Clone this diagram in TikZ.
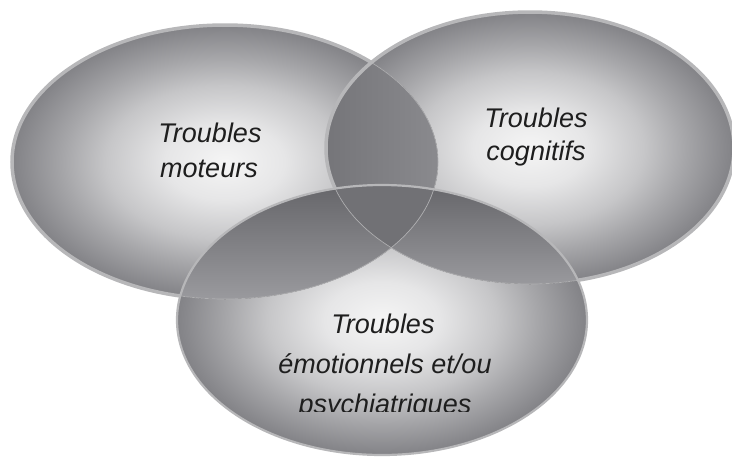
\documentclass[tikz,border=0pt]{standalone}
\usepackage{fontspec}
\setmainfont{Liberation Sans}
\definecolor{shA}{HTML}{F5F5F5}
\definecolor{shB}{HTML}{E6E6E7}
\definecolor{shC}{HTML}{C6C6C8}
\definecolor{shD}{HTML}{A6A6A9}
\definecolor{shE}{HTML}{88888C}
\definecolor{shF}{HTML}{727276}
\definecolor{shG}{HTML}{68686C}
\definecolor{rimc}{HTML}{B7B7B9}
\definecolor{thinc}{HTML}{B0B0B2}
\definecolor{lensa}{HTML}{747478}
\definecolor{lensb}{HTML}{8A8A8E}
\definecolor{lowa}{HTML}{66666A}
\definecolor{lowb}{HTML}{9A9A9E}
\definecolor{triple}{HTML}{717175}
\definecolor{txt}{HTML}{1E1E1E}
\pgfdeclareradialshading{blob}{\pgfpointorigin}{color(0bp)=(shA); color(7bp)=(shB); color(14bp)=(shC); color(19bp)=(shD); color(24bp)=(shE); color(28bp)=(shF); color(35bp)=(shG); color(50bp)=(shG)}
\tikzset{
  ballfill/.style={shading=blob},
  rimthick/.style={draw=rimc, line width=3.5pt},
  rimbottom/.style={draw=rimc, line width=2.2pt},
  rimthin/.style={draw=thinc, line width=0.7pt},
  pL/.style={insert path={(cL) ellipse [x radius=213pt, y radius=137pt]}},
  pR/.style={insert path={(cR) ellipse [x radius=204pt, y radius=136pt]}},
  pB/.style={insert path={(cB) ellipse [x radius=205pt, y radius=135pt]}},
  lbl/.style={font=\fontsize{27}{30}\selectfont\itshape, text=txt, inner sep=0pt, anchor=base}
}
\begin{document}
\begin{tikzpicture}[x=1pt,y=-1pt]
\useasboundingbox (0,0) rectangle (732,459);
\coordinate (cL) at (225,162);
\coordinate (cR) at (530,148);
\coordinate (cB) at (382,320);
% left ellipse
\path[ballfill, pL];
\path[rimthick, pL];
% right ellipse
\path[ballfill, pR];
\begin{scope}
  \clip[pL];
  \clip[pR];
  \fill[left color=lensa, right color=lensb] (320,0) rectangle (440,300);
\end{scope}
\begin{scope}
  \clip[pR];
  \path[rimthin, pL];
\end{scope}
\path[rimthick, pR];
% bottom ellipse
\path[ballfill, pB];
\begin{scope}
  \clip[pB];
  \begin{scope}
    \clip[pL];
    \fill[top color=lowa, bottom color=lowb] (170,185) rectangle (440,300);
  \end{scope}
  \begin{scope}
    \clip[pR];
    \fill[top color=lowa, bottom color=lowb] (320,185) rectangle (600,286);
  \end{scope}
  \begin{scope}
    \clip[pL];
    \clip[pR];
    \fill[triple] (320,180) rectangle (450,300);
  \end{scope}
  \path[rimthin, pL];
  \path[rimthin, pR];
\end{scope}
\path[rimbottom, pB];
% labels
\node[lbl] (l1) at (210,142) {Troubles};
\node[lbl] (l2) at (209,177) {moteurs};
\node[lbl] (r1) at (536,127) {Troubles};
\node[lbl] (r2) at (536,160) {cognitifs};
\node[lbl] (b1) at (383,333) {Troubles};
\node[lbl] (b2) at (385,373) {émotionnels et/ou};
\begin{scope}
  \clip (0,0) rectangle (732,411);
  \node[lbl] (b3) at (385,413) {psychiatriques};
\end{scope}
\end{tikzpicture}
\end{document}
